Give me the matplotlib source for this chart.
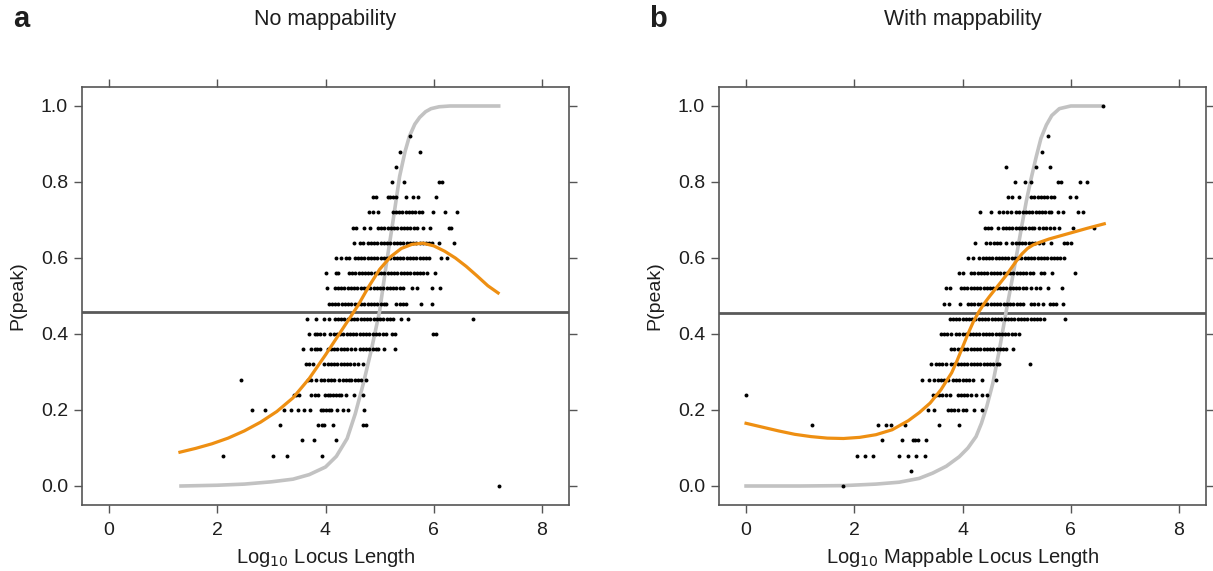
import matplotlib
matplotlib.use("Agg")
import matplotlib.pyplot as plt

plt.rcParams['font.family'] = ['Liberation Sans', 'DejaVu Sans']

# ---- panel a: no mappability ----
a_levels = [0.92, 0.88, 0.84, 0.80, 0.76, 0.72, 0.68, 0.64, 0.60, 0.56, 0.52, 0.48,
            0.44, 0.40, 0.36, 0.32, 0.28, 0.24, 0.20, 0.16, 0.12, 0.08, 0.0]
a_xs = [
    [5.56],
    [5.37, 5.74],
    [5.30],
    [5.22, 5.45, 6.09, 6.16],
    [4.88, 4.93, 5.15, 5.20, 5.25, 5.30, 5.49, 5.62, 5.71, 6.05],
    [4.80, 4.88, 4.97, 5.24, 5.30, 5.36, 5.42, 5.48, 5.54, 5.60, 5.66, 5.72, 5.78, 5.99, 6.20, 6.43],
    [4.51, 4.57, 4.72, 4.82, 4.97, 5.03, 5.09, 5.15, 5.21, 5.27, 5.33, 5.39, 5.45, 5.51, 5.57,
     5.63, 5.69, 5.80, 5.93, 6.28, 6.32],
    [4.52, 4.63, 4.69, 4.78, 4.84, 4.90, 4.96, 5.02, 5.08, 5.14, 5.20, 5.26, 5.32, 5.38, 5.44,
     5.50, 5.56, 5.62, 5.68, 5.74, 5.80, 5.86, 5.92, 5.96, 6.10, 6.37],
    [4.19, 4.29, 4.38, 4.44, 4.54, 4.60, 4.66, 4.72, 4.78, 4.84, 4.90, 4.96, 5.02, 5.08, 5.14,
     5.20, 5.26, 5.32, 5.38, 5.44, 5.50, 5.56, 5.62, 5.68, 5.74, 5.80, 5.86, 5.92, 6.14, 6.24],
    [4.01, 4.19, 4.23, 4.43, 4.49, 4.55, 4.61, 4.67, 4.73, 4.79, 4.85, 4.91, 4.97, 5.03, 5.09,
     5.15, 5.21, 5.27, 5.33, 5.39, 5.45, 5.51, 5.57, 5.63, 5.69, 5.75, 5.80, 5.87, 6.02],
    [4.03, 4.17, 4.23, 4.29, 4.35, 4.41, 4.47, 4.53, 4.59, 4.65, 4.71, 4.77, 4.83, 4.89, 4.95,
     5.01, 5.07, 5.13, 5.19, 5.25, 5.31, 5.37, 5.43, 5.60, 5.70, 5.96, 6.12],
    [4.06, 4.12, 4.18, 4.24, 4.30, 4.36, 4.42, 4.48, 4.54, 4.60, 4.66, 4.72, 4.78, 4.84, 4.90,
     4.96, 5.02, 5.08, 5.12, 5.31, 5.37, 5.43, 5.49, 5.76, 5.97],
    [3.65, 3.83, 3.98, 4.07, 4.17, 4.23, 4.29, 4.35, 4.41, 4.47, 4.53, 4.59, 4.65, 4.71, 4.77,
     4.83, 4.89, 4.95, 5.01, 5.07, 5.13, 5.19, 5.25, 5.40, 5.53, 6.73],
    [3.69, 3.80, 3.85, 3.90, 3.98, 4.09, 4.15, 4.21, 4.27, 4.33, 4.39, 4.45, 4.51, 4.57, 4.63,
     4.69, 4.75, 4.81, 4.87, 4.93, 4.99, 5.06, 5.12, 5.22, 5.28, 5.98, 6.05],
    [3.59, 3.73, 3.80, 3.85, 3.90, 4.04, 4.10, 4.16, 4.22, 4.28, 4.34, 4.40, 4.47, 4.55, 4.63,
     4.69, 4.75, 4.81, 4.87, 4.93, 4.97, 5.09, 5.28],
    [3.64, 3.70, 3.77, 3.98, 4.04, 4.10, 4.16, 4.22, 4.28, 4.34, 4.40, 4.46, 4.52, 4.60, 4.70],
    [2.43, 3.67, 3.73, 3.83, 3.92, 3.98, 4.04, 4.10, 4.16, 4.25, 4.32, 4.38, 4.43, 4.48, 4.54,
     4.60, 4.66, 4.75],
    [3.41, 3.46, 3.51, 3.73, 3.80, 3.87, 3.99, 4.04, 4.09, 4.14, 4.19, 4.25, 4.29, 4.37, 4.53, 4.69],
    [2.65, 2.89, 3.23, 3.37, 3.50, 3.61, 3.72, 3.91, 3.96, 4.01, 4.06, 4.11, 4.21, 4.32, 4.42, 4.72],
    [3.15, 3.87, 3.93, 3.98, 4.14, 4.69, 4.75],
    [3.57, 3.78, 4.19],
    [2.11, 3.03, 3.28, 3.93],
    [7.20],
]
# reference sigmoid (grey) and fitted trend (orange)
a_sig_x = [1.33, 2.0, 2.5, 3.0, 3.4, 3.7, 4.0, 4.2, 4.4, 4.55, 4.7, 4.85, 5.0, 5.12, 5.24,
           5.37, 5.47, 5.55, 5.65, 5.74, 5.85, 5.95, 6.1, 6.3, 7.2]
a_sig_y = [0.0, 0.002, 0.005, 0.011, 0.018, 0.03, 0.05, 0.078, 0.125, 0.19, 0.27, 0.36, 0.46,
           0.58, 0.69, 0.815, 0.88, 0.92, 0.952, 0.97, 0.985, 0.993, 0.998, 1.0, 1.0]
a_fit_x = [1.31, 1.6, 1.9, 2.2, 2.5, 2.8, 3.1, 3.4, 3.7, 4.0, 4.3, 4.6, 4.8, 5.0, 5.2, 5.4,
           5.6, 5.8, 6.0, 6.2, 6.4, 6.6, 6.8, 7.0, 7.19]
a_fit_y = [0.089, 0.099, 0.111, 0.126, 0.145, 0.168, 0.196, 0.232, 0.283, 0.345, 0.41, 0.475,
           0.525, 0.57, 0.603, 0.625, 0.636, 0.639, 0.632, 0.618, 0.6, 0.578, 0.553, 0.527, 0.508]
a_hline = 0.457

# ---- panel b: with mappability ----
b_levels = [1.0, 0.92, 0.88, 0.84, 0.80, 0.76, 0.72, 0.68, 0.64, 0.60, 0.56, 0.52, 0.48,
            0.44, 0.40, 0.36, 0.32, 0.28, 0.24, 0.20, 0.16, 0.12, 0.08, 0.04, 0.0]
b_xs = [
    [6.59],
    [5.58],
    [5.46],
    [4.81, 5.35, 5.61],
    [4.97, 5.16, 5.26, 5.76, 5.82, 6.18, 6.30],
    [4.84, 4.92, 5.05, 5.27, 5.33, 5.39, 5.45, 5.51, 5.57, 5.63, 5.70, 5.98, 6.10],
    [4.33, 4.52, 4.67, 4.75, 4.83, 4.90, 4.99, 5.05, 5.11, 5.17, 5.23, 5.29, 5.35, 5.41, 5.47,
     5.53, 5.59, 5.64, 5.76, 5.85, 6.14, 6.23],
    [4.41, 4.47, 4.53, 4.65, 4.74, 4.80, 4.86, 4.92, 4.98, 5.04, 5.10, 5.16, 5.22, 5.28, 5.33,
     5.42, 5.48, 5.55, 5.61, 5.70, 5.79, 6.05, 6.43],
    [4.24, 4.44, 4.50, 4.58, 4.64, 4.70, 4.81, 4.92, 4.98, 5.04, 5.10, 5.16, 5.22, 5.28, 5.34,
     5.42, 5.48, 5.64, 5.88, 5.94, 6.00],
    [4.10, 4.19, 4.31, 4.37, 4.43, 4.49, 4.55, 4.61, 4.67, 4.73, 4.79, 4.85, 4.91, 4.97, 5.03,
     5.09, 5.15, 5.21, 5.27, 5.33, 5.39, 5.45, 5.51, 5.57, 5.63, 5.69, 5.75, 5.81, 5.88],
    [3.94, 4.00, 4.16, 4.22, 4.28, 4.34, 4.40, 4.46, 4.52, 4.58, 4.64, 4.70, 4.76, 4.82, 4.88,
     4.94, 5.00, 5.06, 5.12, 5.18, 5.24, 5.30, 5.45, 5.51, 5.66, 6.07],
    [3.70, 3.76, 3.97, 4.03, 4.09, 4.15, 4.21, 4.27, 4.33, 4.39, 4.45, 4.51, 4.57, 4.63, 4.69,
     4.75, 4.81, 4.87, 4.93, 4.99, 5.05, 5.11, 5.18, 5.27, 5.36, 5.44, 5.58, 5.84],
    [3.65, 3.75, 3.96, 4.10, 4.16, 4.22, 4.28, 4.34, 4.40, 4.46, 4.52, 4.58, 4.64, 4.70, 4.76,
     4.82, 4.88, 4.94, 5.00, 5.06, 5.11, 5.27, 5.33, 5.40, 5.48, 5.61, 5.67, 5.73, 5.85],
    [3.76, 3.82, 3.88, 3.94, 4.00, 4.06, 4.12, 4.18, 4.24, 4.30, 4.36, 4.42, 4.48, 4.54, 4.60,
     4.66, 4.72, 4.78, 4.84, 4.90, 4.96, 5.02, 5.08, 5.14, 5.20, 5.26, 5.32, 5.38, 5.44, 5.50, 5.90],
    [3.60, 3.66, 3.72, 3.79, 3.88, 3.94, 4.00, 4.07, 4.13, 4.19, 4.25, 4.31, 4.37, 4.43, 4.49,
     4.55, 4.61, 4.67, 4.73, 4.79, 4.85, 4.91, 4.97, 5.05],
    [3.79, 3.85, 3.91, 3.97, 4.03, 4.09, 4.15, 4.21, 4.27, 4.33, 4.39, 4.45, 4.51, 4.57, 4.63,
     4.69, 4.75, 4.80, 4.93],
    [3.41, 3.51, 3.57, 3.63, 3.70, 3.79, 3.85, 3.91, 3.97, 4.03, 4.09, 4.15, 4.21, 4.27, 4.33,
     4.39, 4.45, 4.51, 4.57, 4.63, 4.68, 5.24],
    [3.25, 3.39, 3.48, 3.54, 3.60, 3.66, 3.73, 3.82, 3.88, 3.94, 4.00, 4.06, 4.12, 4.20, 4.36, 4.62],
    [0.00, 3.45, 3.51, 3.57, 3.63, 3.70, 3.76, 3.91, 3.97, 4.03, 4.09, 4.15, 4.25, 4.36, 4.45],
    [3.36, 3.48, 3.73, 3.79, 3.85, 3.91, 4.00, 4.07, 4.22, 4.36],
    [1.21, 2.43, 2.59, 2.68, 2.94, 3.56, 3.93],
    [2.51, 2.88, 3.08, 3.13, 3.17, 3.33],
    [2.05, 2.20, 2.34, 2.82, 2.99, 3.14, 3.30],
    [3.04],
    [1.79],
]
b_sig_x = [0.0, 1.0, 1.8, 2.4, 2.83, 3.2, 3.45, 3.7, 3.94, 4.1, 4.25, 4.35, 4.45, 4.56, 4.68,
           4.8, 4.9, 4.99, 5.09, 5.18, 5.27, 5.36, 5.45, 5.55, 5.65, 5.79, 6.0, 6.59]
b_sig_y = [0.0, 0.0, 0.001, 0.005, 0.01, 0.02, 0.034, 0.052, 0.077, 0.1, 0.13, 0.165, 0.21, 0.27,
           0.357, 0.454, 0.53, 0.6, 0.68, 0.75, 0.81, 0.865, 0.915, 0.95, 0.975, 0.993, 1.0, 1.0]
b_fit_x = [0.0, 0.3, 0.6, 0.9, 1.2, 1.5, 1.8, 2.1, 2.4, 2.7, 3.0, 3.2, 3.4, 3.6, 3.8, 3.9, 4.0,
           4.1, 4.2, 4.3, 4.4, 4.5, 4.6, 4.7, 4.8, 4.9, 5.0, 5.1, 5.2, 5.3, 5.42, 5.6, 5.8,
           6.0, 6.3, 6.62]
b_fit_y = [0.165, 0.155, 0.145, 0.136, 0.13, 0.126, 0.125, 0.128, 0.135, 0.148, 0.172, 0.193,
           0.218, 0.253, 0.298, 0.33, 0.365, 0.4, 0.432, 0.458, 0.48, 0.499, 0.517, 0.535,
           0.553, 0.573, 0.593, 0.611, 0.625, 0.634, 0.641, 0.65, 0.658, 0.666, 0.678, 0.69]
b_hline = 0.455

xticks = [0, 2, 4, 6, 8]
yticks = [0.0, 0.2, 0.4, 0.6, 0.8, 1.0]
ytick_labels = ["0.0", "0.2", "0.4", "0.6", "0.8", "1.0"]

AXIS_COL = "#555555"
TEXT_COL = "#1e1e1e"


def draw_panel(ax, levels, xs, sig_x, sig_y, fit_x, fit_y, hline, letter, title, xlabel):
    ax.axhline(hline, color="#595959", lw=2.0, zorder=1)
    ax.plot(sig_x, sig_y, color="#c2c2c2", lw=2.6, zorder=2, solid_joinstyle="round")
    px = []
    py = []
    for lev, row in zip(levels, xs):
        for v in row:
            px.append(v)
            py.append(lev)
    ax.scatter(px, py, s=8, color="black", linewidths=0, zorder=3)
    ax.plot(fit_x, fit_y, color="#ee8f12", lw=2.3, zorder=4, solid_joinstyle="round")

    ax.set_xlim(-0.5, 8.5)
    ax.set_ylim(-0.05, 1.05)
    ax.set_xticks(xticks)
    ax.set_yticks(yticks)
    ax.set_yticklabels(ytick_labels)
    for sp in ax.spines.values():
        sp.set_color(AXIS_COL)
        sp.set_linewidth(1.2)
    ax.tick_params(direction="out", length=6, width=1.0, color=AXIS_COL, labelsize=14,
                   top=True, right=True, labeltop=False, labelright=False,
                   labelcolor=TEXT_COL)
    ax.tick_params(axis="x", pad=6)
    ax.tick_params(axis="y", pad=4)
    ax.set_xlabel(xlabel, fontsize=14.5, color=TEXT_COL, labelpad=5)
    ax.set_ylabel("P(peak)", fontsize=14, color=TEXT_COL)
    ax.yaxis.set_label_coords(-0.115, 0.5)

    # panel title and letter above the axes
    bb = ax.get_position()
    fig.text((bb.x0 + bb.x1) / 2, 1 - 20 / 571, title, ha="center", va="center",
             fontsize=15.5, color=TEXT_COL)
    fig.text(bb.x0 - 61 / 1213, 1 - 19 / 571, letter, ha="center", va="center",
             fontsize=21, fontweight="bold", color=TEXT_COL)


fig = plt.figure(figsize=(12.13, 5.71), dpi=100)
ax_a = fig.add_axes([82 / 1213, 1 - 505 / 571, 487 / 1213, 418 / 571])
ax_b = fig.add_axes([719 / 1213, 1 - 505 / 571, 487 / 1213, 418 / 571])

draw_panel(ax_a, a_levels, a_xs, a_sig_x, a_sig_y, a_fit_x, a_fit_y, a_hline,
           "a", "No mappability", "Log$_{10}$ Locus Length")
draw_panel(ax_b, b_levels, b_xs, b_sig_x, b_sig_y, b_fit_x, b_fit_y, b_hline,
           "b", "With mappability", "Log$_{10}$ Mappable Locus Length")

fig.savefig("out.png", dpi=100)
